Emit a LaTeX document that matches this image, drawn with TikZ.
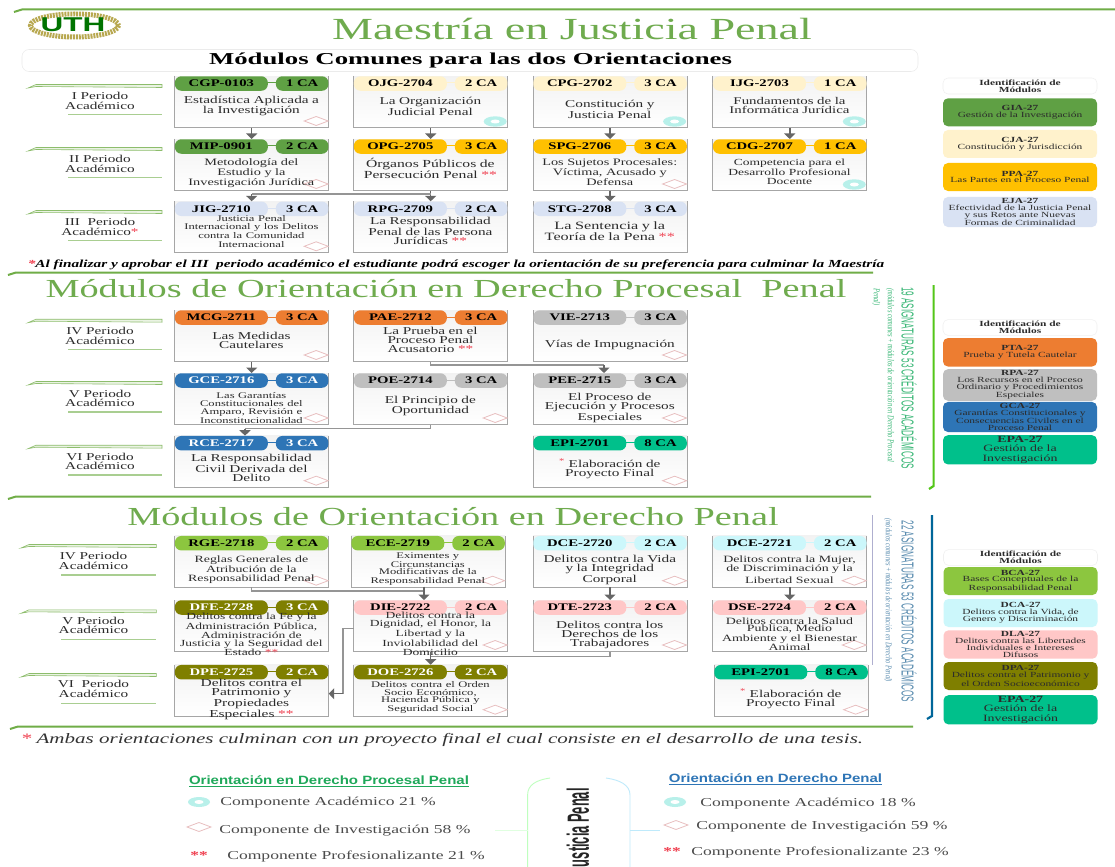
\documentclass[tikz,border=0pt]{standalone}
\usepackage{fontspec}
\usepackage{graphicx}
\usetikzlibrary{arrows.meta}
\setmainfont[FakeStretch=1.45]{Liberation Serif}
\newfontfamily\cmpfont[FakeStretch=1.45]{Liberation Serif}
\newfontfamily\headsf[FakeStretch=1.05]{Liberation Sans}
\newfontfamily\bigsf[FakeStretch=0.42]{Liberation Sans}
\newfontfamily\vertsf[FakeStretch=0.47]{Liberation Sans}
\newfontfamily\vertsub[FakeStretch=0.72]{Liberation Serif}
\definecolor{cTitle}{HTML}{6FAB4E}
\definecolor{cRule}{HTML}{70AD47}
\definecolor{cGreen}{HTML}{5FA044}
\definecolor{cCream}{HTML}{FFF2CC}
\definecolor{cAmber}{HTML}{FFC000}
\definecolor{cLav}{HTML}{D9E2F3}
\definecolor{cOrange}{HTML}{ED7D31}
\definecolor{cGrey}{HTML}{BFBFBF}
\definecolor{cBlue}{HTML}{2E75B6}
\definecolor{cTeal}{HTML}{00C08B}
\definecolor{cLime}{HTML}{8CC63F}
\definecolor{cCyan}{HTML}{CCF7FB}
\definecolor{cPink}{HTML}{FFC7C7}
\definecolor{cOlive}{HTML}{7F7F00}
\definecolor{cBorder}{HTML}{A6A6A6}
\definecolor{cArrow}{HTML}{666666}
\definecolor{cInk}{HTML}{2B2B2B}
\definecolor{cDiam}{HTML}{E8BFC0}
\definecolor{cRing}{HTML}{B8F0EA}
\definecolor{cStar}{HTML}{F04050}
\definecolor{cV1}{HTML}{3CB878}
\definecolor{cV2}{HTML}{5B8DB0}
\definecolor{cOb1}{HTML}{1FA85A}
\definecolor{cOb2}{HTML}{2E75B6}
\definecolor{cWreath}{HTML}{B8A850}
\def\u{0.75pt}
\newcommand\fsz[2]{\fontsize{#1}{#2}\selectfont}
\newcommand\rs{\textcolor{cStar}{**}}
\newcommand\sm{\fsz{6.5}{5.7}}
\tikzset{
 x=0.75pt,y=-0.75pt,
 hgreen/.style={fill=cGreen,text=black},
 hcream/.style={fill=cCream,text=black},
 hamber/.style={fill=cAmber,text=black},
 hlav/.style={fill=cLav,text=black},
 horange/.style={fill=cOrange,text=black},
 hgrey/.style={fill=cGrey,text=black},
 hblue/.style={fill=cBlue,text=white},
 hteal/.style={fill=cTeal,text=black},
 hlime/.style={fill=cLime,text=black},
 hcyan/.style={fill=cCyan,text=black},
 hpink/.style={fill=cPink,text=black},
 holive/.style={fill=cOlive,text=white},
 pill/.style={rounded corners=6.5*\u,inner sep=0pt,minimum height=14.5*\u,anchor=north west,font=\bfseries\fsz{7.6}{8}},
 bodybox/.style={anchor=north west,inner sep=0pt,minimum width=153.6*\u,minimum height=51*\u,top color=black!5,bottom color=white},
 border/.style={draw=cBorder,line width=1*\u},
 bodytext/.style={align=center,text width=151*\u,inner sep=0pt,text=cInk,font=\fsz{7.9}{6.8}},
 perlab/.style={align=center,inner sep=0pt,text=cInk,font=\fsz{7.9}{7.2}},
 arr/.style={draw=cArrow,line width=1.5*\u,-{Triangle[length=5.5*\u,width=11*\u]}},
 lin/.style={draw=cBorder!90!black,line width=1.3*\u},
 orn/.style={draw=cRule!80,line width=.6*\u,fill=cRule!15},
 ornlow/.style={draw=cRule!60,line width=1.3*\u},
 rule/.style={draw=cRule,line width=2*\u},
 sect/.style={inner sep=0pt,text=cTitle},
 legend/.style={rounded corners=5*\u,inner sep=1pt,align=center,minimum width=154*\u,text=cInk,font=\fsz{5.9}{5.1}},
 cmp/.style={inner sep=0pt,anchor=west,text=black!70,font=\cmpfont\fsz{9.1}{10}},
 diam/.style={draw=cDiam,fill=white,line width=.8*\u},
}
\newcommand\markdiam[2]{\path[diam] ({#1+153.6},{#2+45}) -- ({#1+141.6},{#2+40.5}) -- ({#1+129.6},{#2+45}) -- ({#1+141.6},{#2+49.5}) -- cycle;}
\newcommand\markring[2]{\fill[cRing] ({#1+141.6},{#2+45.5}) ellipse [x radius=11.5,y radius=5.2];\fill[white] ({#1+141.6},{#2+45.5}) ellipse [x radius=4.5,y radius=2];}
\newcommand\marknone[2]{}
\newcommand\modbox[9]{%
 \node[bodybox] (#1) at (#2,#3) {};
 \draw[border] (#1.north west) -- (#1.south west) -- (#1.south east) -- (#1.north east);
 \path[#6] ({#2+90},{#3+6.5}) rectangle ({#2+104},{#3+7.5});
 \node[pill,#6,minimum width=93*\u] (#1-code) at (#2,#3) {#4};
 \node[pill,#6,minimum width=52.6*\u] (#1-ca) at ({#2+101},#3) {#5};
 \csname mark#7\endcsname{#2}{#3}
 \node[bodytext] (#1-t) at ({#2+76.8},{#3+#8+1}) {#9};
}
\newcommand\ornament[5]{%
 \path[orn] (#1,{#4+2}) -- ({#1+8},{#4-1.5}) -- (#3,{#4-1.5}) -- (#3,{#4+1.5}) -- ({#1+8},{#4+.5}) -- cycle;
 \path[ornlow] (#2,#5) -- (#3,#5);
}
\begin{document}
\begin{tikzpicture}
\path[use as bounding box,clip] (0,0) rectangle (1115,867);
\fill[white] (0,0) rectangle (1115,867);
% rules
\draw[rule] (14,12) -- (22,9.5) -- (1115,9.5);
\draw[rule] (8,275) -- (16,272.5) -- (873,272.5);
\draw[rule] (8,499) -- (16,496.5) -- (871,496.5);
\draw[rule] (10,729) -- (18,726.5) -- (913,726.5);
% logo
\draw[draw=cWreath,line width=5*\u,dash pattern=on 1.5pt off .7pt] (74.5,25.5) ellipse [x radius=44,y radius=11.5];
\fill[white] (74.5,25) ellipse [x radius=37,y radius=8.5];
\node[inner sep=0pt,text=green!45!black] (logo) at (73,24.5) {\headsf\bfseries\fsz{15}{15}\scalebox{1.5}[1]{UTH}};
% titles
\node[sect,font=\fsz{23}{24}] (title) at (572,29) {\scalebox{1.036}[1]{Maestría en Justicia Penal}};
\node[draw=black!8,rounded corners=7*\u,minimum width=896*\u,minimum height=22*\u,inner sep=0pt] (bannerbox) at (470,60.5) {};
\node[inner sep=0pt,font=\bfseries\fsz{12.5}{13}] (banner) at (470.5,60.5) {\scalebox{1.108}[1]{Módulos Comunes para las dos Orientaciones}};
\node[sect,font=\fsz{19.5}{20}] (title2) at (446,289) {\scalebox{1.016}[1]{Módulos de Orientación en Derecho Procesal\ \ Penal}};
\node[sect,font=\fsz{19.5}{20}] (title3) at (453,517) {\scalebox{1.015}[1]{Módulos de Orientación en Derecho Penal}};
% period ornaments
\ornament{28}{68}{162}{86}{114.7}
\ornament{28}{68}{162}{149}{177.7}
\ornament{28}{68}{162}{212}{240.7}
\ornament{28}{68}{162}{320.7}{349.3}
\ornament{28}{68}{162}{383}{412}
\ornament{28}{68}{162}{446.7}{475}
\ornament{21}{61.4}{156.4}{546}{575}
\ornament{21}{61.4}{156.4}{611.3}{639.3}
\ornament{21}{61.4}{156.4}{675}{703.7}
\node[perlab] (p1) at (100,101) {I Periodo\\Académico};
\node[perlab] (p2) at (100,164) {II Periodo\\Académico};
\node[perlab] (p3) at (100,227) {III\ \ Periodo\\Académico\textcolor{cStar}{*}};
\node[perlab] (p4) at (100,336) {IV Periodo\\Académico};
\node[perlab] (p5) at (100,398.5) {V Periodo\\Académico};
\node[perlab] (p6) at (100,461.5) {VI Periodo\\Académico};
\node[perlab] (p7) at (93.5,561) {IV Periodo\\Académico};
\node[perlab] (p8) at (93.5,625.5) {V Periodo\\Académico};
\node[perlab] (p9) at (93.5,689) {VI\ \ Periodo\\Académico};
% section 1
\modbox{cgp}{174.6}{76}{CGP-0103}{1 CA}{hgreen}{diam}{29}{Estadística Aplicada a\\la Investigación}
\modbox{ojg}{353.6}{76}{OJG-2704}{2 CA}{hcream}{ring}{29}{La Organización\\Judicial Penal}
\modbox{cpg}{533}{76}{CPG-2702}{3 CA}{hcream}{ring}{32}{Constitución y\\Justicia Penal}
\modbox{ijg}{712.7}{76}{IJG-2703}{1 CA}{hcream}{ring}{28.5}{\fsz{7.7}{6.8}Fundamentos de la\\Informática Jurídica}
\modbox{mip}{174.6}{139}{MIP-0901}{2 CA}{hgreen}{diam}{33}{\fsz{7.4}{6.5}Metodología del\\Estudio y la\\Investigación Jurídica}
\modbox{opg}{353.6}{139}{OPG-2705}{3 CA}{hamber}{none}{28.5}{\fsz{8.1}{6.9}Órganos Públicos de\\Persecución Penal \rs}
\modbox{spg}{533}{139}{SPG-2706}{3 CA}{hamber}{diam}{32}{\fsz{7.4}{6.5}Los Sujetos Procesales:\\Víctima, Acusado y\\Defensa}
\modbox{cdg}{712.7}{139}{CDG-2707}{1 CA}{hamber}{ring}{32}{\fsz{7}{6.3}Competencia para el\\Desarrollo Profesional\\Docente}
\modbox{jig}{174.6}{201.3}{JIG-2710}{3 CA}{hlav}{diam}{29.5}{\sm Justicia Penal\\Internacional y los Delitos\\contra la Comunidad\\Internacional}
\modbox{rpg}{353.6}{201.3}{RPG-2709}{2 CA}{hlav}{none}{29}{La Responsabilidad\\Penal de las Persona\\Jurídicas \rs}
\modbox{stg}{533}{201.3}{STG-2708}{3 CA}{hlav}{none}{29}{\fsz{8.4}{6.8}La Sentencia y la\\Teoría de la Pena \rs}
\draw[arr] (cgp.south) -- (mip.north);
\draw[arr] (ojg.south) -- (opg.north);
\draw[arr] (cpg.south) -- (spg.north);
\draw[arr] (ijg.south) -- (cdg.north);
\draw[arr] (spg.south) -- (stg.north);
\draw[arr] (opg.south) -- (rpg.north);
\coordinate (j1) at (rpg.north |- 0,194);
\coordinate (j2) at (jig.north |- 0,194);
\draw[lin] (j1) -- (j2);
\draw[arr] (j2) -- (jig.north);
\node[inner sep=0pt,font=\bfseries\itshape\fsz{8.1}{9}] (foot1) at (456,264.5) {\scalebox{0.977}[1]{\textcolor{cStar}{*}Al finalizar y aprobar el III\ \ periodo académico el estudiante podrá escoger la orientación de su preferencia para culminar la Maestría}};
% section 2
\modbox{mcg}{174.6}{310}{MCG-2711}{3 CA}{horange}{diam}{29}{Las Medidas\\Cautelares}
\modbox{pae}{353.6}{310}{PAE-2712}{3 CA}{horange}{none}{29}{La Prueba en el\\Proceso Penal\\Acusatorio \rs}
\modbox{vie}{533}{310}{VIE-2713}{3 CA}{hgrey}{diam}{34}{Vías de Impugnación}
\modbox{gce}{174.6}{373}{GCE-2716}{3 CA}{hblue}{diam}{34}{\sm Las Garantías\\Constitucionales del\\Amparo, Revisión e\\Inconstitucionalidad}
\modbox{poe}{353.6}{373}{POE-2714}{3 CA}{hgrey}{diam}{32}{El Principio de\\Oportunidad}
\modbox{pee}{533}{373}{PEE-2715}{3 CA}{hgrey}{diam}{33.7}{El Proceso de\\Ejecución y Procesos\\Especiales}
\modbox{rce}{174.6}{435.7}{RCE-2717}{3 CA}{hblue}{diam}{31}{La Responsabilidad\\Civil Derivada del\\Delito}
\modbox{epia}{533}{435.7}{EPI-2701}{8 CA}{hteal}{diam}{32}{\textcolor{cStar}{\textsuperscript{*}} Elaboración de\\Proyecto Final}
\draw[arr] (mcg.south) -- (gce.north);
\coordinate (k1) at (pae.south |- 0,365);
\coordinate (k2) at (604,365);
\coordinate (k3) at (604,373);
\draw[lin] (pae.south) -- (k1) -- (k2);
\draw[arr] (k2) -- (k3);
\coordinate (m1) at (poe.south |- 0,428.5);
\coordinate (m2) at (245,428.5);
\coordinate (m3) at (245,435.7);
\draw[lin] (poe.south) -- (m1) -- (m2);
\draw[arr] (m2) -- (m3);
% section 3
\modbox{rge}{174.6}{535.7}{RGE-2718}{2 CA}{hlime}{diam}{33}{\fsz{7.2}{6.2}Reglas Generales de\\Atribución de la\\Responsabilidad Penal}
\modbox{ece}{351}{535.7}{ECE-2719}{2 CA}{hlime}{diam}{32.5}{\sm Eximentes y\\Circunstancias\\Modificativas de la\\Responsabilidad Penal}
\modbox{dcea}{533}{535.7}{DCE-2720}{2 CA}{hcyan}{diam}{33}{Delitos contra la Vida\\y la Integridad\\Corporal}
\modbox{dceb}{712.7}{535.7}{DCE-2721}{2 CA}{hcyan}{diam}{33}{\fsz{7.2}{6.8}Delitos contra la Mujer,\\de Discriminación y la\\[2.6pt]Libertad Sexual}
\modbox{dfe}{174.6}{600}{DFE-2728}{3 CA}{holive}{none}{33}{\fsz{7}{5.8}Delitos contra la Fe y la\\Administración Pública,\\Administración de\\Justicia y la Seguridad del\\Estado \rs}
\modbox{die}{353.6}{600}{DIE-2722}{2 CA}{hpink}{diam}{33}{\fsz{7}{5.8}Delitos contra la\\Dignidad, el Honor, la\\Libertad y la\\Inviolabilidad del\\Domicilio}
\modbox{dte}{533}{600}{DTE-2723}{2 CA}{hpink}{diam}{34}{Delitos contra los\\Derechos de los\\Trabajadores}
\modbox{dse}{712.7}{600}{DSE-2724}{2 CA}{hpink}{diam}{33}{\fsz{7.2}{5.9}Delitos contra la Salud\\Publica, Medio\\Ambiente y el Bienestar\\Animal}
\modbox{dpe}{174.6}{664.7}{DPE-2725}{2 CA}{holive}{none}{33.5}{\fsz{8}{6.7}Delitos contra el\\Patrimonio y\\Propiedades\\Especiales \rs}
\modbox{doe}{353.6}{664.7}{DOE-2726}{2 CA}{holive}{diam}{32}{\sm Delitos contra el Orden\\Socio Económico,\\Hacienda Pública y\\Seguridad Social}
\modbox{epib}{714}{664.7}{EPI-2701}{8 CA}{hteal}{diam}{33}{\textcolor{cStar}{\textsuperscript{*}} Elaboración de\\Proyecto Final}
\coordinate (n1) at (rge.south |- 0,591);
\coordinate (n2) at (424,591);
\coordinate (n3) at (424,600);
\coordinate (n0) at (424,586.7);
\draw[lin] (rge.south) -- (n1) -- (n2);
\draw[arr] (n0) -- (n3);
\draw[arr] (dcea.south) -- (dte.north);
\draw[arr] (dceb.south) -- (dse.north);
\draw[arr] (die.south) -- (doe.north);
\coordinate (q1) at (dte.south |- 0,656.7);
\coordinate (q2) at (die.south |- 0,656.7);
\draw[lin] (dte.south) -- (q1) -- (q2);
\coordinate (r0) at (die.west |- 0,628.3);
\coordinate (r1) at (343,628.3);
\coordinate (r2) at (343,693.7);
\coordinate (r3) at (dpe.east |- 0,693.7);
\draw[lin] (r0) -- (r1) -- (r2);
\draw[arr] (r2) -- (r3);
\node[inner sep=0pt,text=black!80,font=\itshape\fsz{10.8}{11}] (foot2) at (442,739.5) {\scalebox{1.007}[1]{\textcolor{cStar}{*} Ambas orientaciones culminan con un proyecto final el cual consiste en el desarrollo de una tesis.}};
% legends 1
\node[legend,draw=black!6,minimum height=16*\u,font=\bfseries\fsz{5.9}{5.4}] (la0) at (1020,86) {Identificación de\\Módulos};
\node[legend,fill=cGreen,minimum height=28*\u] (la1) at (1020,112.3) {\textbf{GIA-27}\\Gestión de la Investigación};
\node[legend,fill=cCream,minimum height=28*\u] (la2) at (1020,144) {\textbf{CJA-27}\\Constitución y Jurisdicción};
\node[legend,fill=cAmber,minimum height=28*\u] (la3) at (1020,177) {\textbf{PPA-27}\\Las Partes en el Proceso Penal};
\node[legend,fill=cLav,minimum height=28*\u] (la4) at (1020,212) {\textbf{EJA-27}\\Efectividad de la Justicia Penal\\y sus Retos ante Nuevas\\Formas de Criminalidad};
% legends 2
\node[legend,draw=black!6,minimum height=15*\u,font=\bfseries\fsz{5.9}{5.6}] (lb0) at (1020,327.5) {Identificación de\\Módulos};
\node[legend,fill=cOrange,minimum height=28.5*\u] (lb1) at (1020,352.3) {\textbf{PTA-27}\\Prueba y Tutela Cautelar};
\node[legend,fill=cGrey,minimum height=28*\u] (lb2) at (1020,385) {\textbf{RPA-27}\\Los Recursos en el Proceso\\Ordinario y Procedimientos\\Especiales};
\node[legend,fill=cBlue,minimum height=28*\u] (lb3) at (1020,417) {\textbf{GCA-27}\\Garantías Constitucionales y\\Consecuencias Civiles en el\\Proceso Penal};
\node[legend,fill=cTeal,minimum height=27.7*\u,font=\fsz{7.2}{6.8}] (lb4) at (1020,449.8) {\textbf{EPA-27}\\Gestión de la\\Investigación};
% legends 3
\node[legend,draw=black!6,minimum height=15*\u,font=\bfseries\fsz{5.9}{5.6}] (lc0) at (1020.5,557.5) {Identificación de\\Módulos};
\node[legend,fill=cLime,minimum height=28*\u] (lc1) at (1020.5,581) {\textbf{BCA-27}\\Bases Conceptuales de la\\Responsabilidad Penal};
\node[legend,fill=cCyan,minimum height=28*\u] (lc2) at (1020.5,613) {\textbf{DCA-27}\\Delitos contra la Vida, de\\Genero y Discriminación};
\node[legend,fill=cPink,minimum height=28*\u] (lc3) at (1020.5,644.5) {\textbf{DLA-27}\\Delitos contra las Libertades\\Individuales e Intereses\\Difusos};
\node[legend,fill=cOlive,minimum height=28*\u] (lc4) at (1020.5,676) {\textbf{DPA-27}\\Delitos contra el Patrimonio y\\el Orden Socioeconómico};
\node[legend,fill=cTeal,minimum height=27.7*\u,font=\fsz{7.2}{6.8}] (lc5) at (1020.5,709.8) {\textbf{EPA-27}\\Gestión de la\\Investigación};
% vertical texts
\node[rotate=-90,inner sep=0pt,text=cV1,font=\vertsf\fsz{13}{13}] (v1) at (909,378) {19 ASIGNATURAS 53 CRÉDITOS ACADÉMICOS};
\node[rotate=-90,inner sep=0pt,anchor=west,text=cV1,font=\vertsub\itshape\fsz{6.8}{7}] (v2) at (890,288) {(módulos comunes + módulos de orientación en Derecho Procesal};
\node[rotate=-90,inner sep=0pt,anchor=west,text=cV1,font=\vertsub\itshape\fsz{6.8}{7}] (v3) at (876,288) {Penal)};
\draw[draw=green!50!olive!90,line width=2.2*\u] (933.6,285) -- (933.6,486) -- (929,489);
\node[rotate=-90,inner sep=0pt,text=cV2,font=\vertsf\fsz{13}{13}] (v4) at (909,611.5) {22 ASIGNATURAS 53 CRÉDITOS ACADÉMICOS};
\node[rotate=-90,inner sep=0pt,anchor=west,text=cV2,font=\vertsub\itshape\fsz{6.6}{7}] (v5) at (888,518) {(módulos comunes + módulos de orientación en Derecho Penal)};
\draw[draw=teal!80!blue,line width=2.2*\u] (932,515) -- (932,716) -- (927,719);
\draw[draw=blue!25!gray!50,line width=.8*\u] (872,515) -- (872,665);
% bottom
\node[inner sep=0pt,text=cOb1,font=\headsf\bfseries\fsz{9}{9}] (ob1) at (329,781) {\underline{\scalebox{1.19}[1]{Orientación en Derecho Procesal Penal}}};
\fill[cRing] (199,802) ellipse [x radius=11,y radius=5];\fill[white] (199,802) ellipse [x radius=4.5,y radius=2];
\node[cmp] (c1) at (220,802.5) {Componente Académico 21 \%};
\path[diam] (211,827) -- (199,822.5) -- (187,827) -- (199,831.5) -- cycle;
\node[cmp] (c2) at (219,830.5) {Componente de Investigación 58 \%};
\node[inner sep=0pt,text=cStar,font=\bfseries\fsz{9}{9}] (s1) at (199,856) {**};
\node[cmp] (c3) at (227,856.5) {Componente Profesionalizante 21 \%};
\node[inner sep=0pt,text=cOb2,font=\headsf\bfseries\fsz{9}{9}] (ob2) at (775.5,779) {\underline{\scalebox{1.19}[1]{Orientación en Derecho Penal}}};
\fill[cRing] (675,802) ellipse [x radius=11,y radius=5];\fill[white] (675,802) ellipse [x radius=4.5,y radius=2];
\node[cmp] (c4) at (700,803.5) {Componente Académico 18 \%};
\path[diam] (688,825) -- (676,820.5) -- (664,825) -- (676,829.5) -- cycle;
\node[cmp] (c5) at (696,826.5) {Componente de Investigación 59 \%};
\node[inner sep=0pt,text=cStar,font=\bfseries\fsz{9}{9}] (s2) at (672,852) {**};
\node[cmp] (c6) at (691,852.5) {Componente Profesionalizante 23 \%};
\draw[draw=green!25!white,line width=.9*\u] (527.6,880) -- (527.6,795) .. controls (527.6,785) and (536,780) .. (550,778);
\draw[draw=cyan!25!white,line width=.9*\u] (630,880) -- (630,795) .. controls (630,785) and (620,780) .. (606,778);
\draw[draw=green!12!white,line width=.9*\u] (495,830) -- (527.6,830);
\draw[draw=cyan!25!white,line width=.9*\u] (630,830) -- (660,830);
\node[rotate=90,inner sep=0pt,anchor=east,font=\bigsf\bfseries\fsz{23}{24},text=black!85] (jp) at (578,788) {Justicia Penal};
\end{tikzpicture}
\end{document}
